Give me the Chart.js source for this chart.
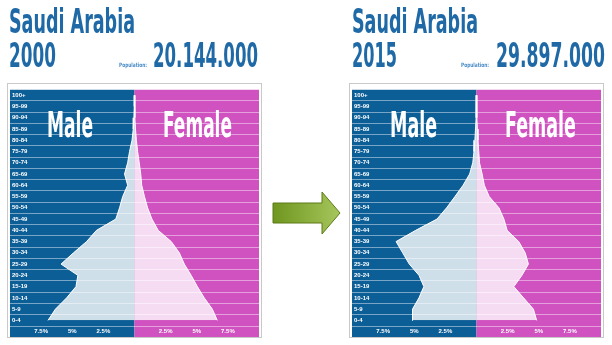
<!DOCTYPE html>
<html>
<head>
<meta charset="utf-8">
<script src="https://cdn.jsdelivr.net/npm/chart.js@4/dist/chart.umd.min.js"></script>
<style>
  body { margin: 0; background: #fff; }
  #wrap { position: relative; width: 612px; height: 345px; overflow: hidden; }
  .frame { position: absolute; top: 83px; border: 1px solid #c9c9c9; width: 253px; height: 253px; }
  .frame canvas { display: block; }
  #deco { position: absolute; left: 0; top: 0; pointer-events: none; }
</style>
</head>
<body>
<div id="wrap">
  <div class="frame" style="left:7px"><canvas id="chart2000" width="253" height="253"></canvas></div>
  <div class="frame" style="left:349px"><canvas id="chart2015" width="253" height="253"></canvas></div>

  <svg id="deco" width="612" height="345">
    <defs>
      <linearGradient id="arrowFill" x1="0" y1="0" x2="1" y2="0">
        <stop offset="0" stop-color="#6f961f"/>
        <stop offset="1" stop-color="#a6c65c"/>
      </linearGradient>
    </defs>
    <polygon points="273,203 322,203 322,192 340,213 322,234 322,223 273,223"
             fill="url(#arrowFill)" stroke="#5c7b16" stroke-width="1"/>

    <g font-family="'Liberation Sans Narrow','DejaVu Sans Condensed','Liberation Sans',sans-serif" font-weight="bold" fill="#1f6aa6">
      <text x="9" y="33.3" font-size="34" textLength="126" lengthAdjust="spacingAndGlyphs">Saudi Arabia</text>
      <text x="9" y="66.7" font-size="34" textLength="47" lengthAdjust="spacingAndGlyphs">2000</text>
      <text x="153" y="66.7" font-size="34" textLength="105" lengthAdjust="spacingAndGlyphs">20.144.000</text>
      <text x="352" y="33.3" font-size="34" textLength="126" lengthAdjust="spacingAndGlyphs">Saudi Arabia</text>
      <text x="352" y="66.7" font-size="34" textLength="45" lengthAdjust="spacingAndGlyphs">2015</text>
      <text x="496" y="66.7" font-size="34" textLength="109" lengthAdjust="spacingAndGlyphs">29.897.000</text>
      <text x="119" y="67" font-size="6" fill="#4a8cc6" textLength="28" lengthAdjust="spacingAndGlyphs">Population:</text>
      <text x="461" y="67" font-size="6" fill="#4a8cc6" textLength="28" lengthAdjust="spacingAndGlyphs">Population:</text>
    </g>

    <g font-family="'Liberation Sans Narrow','DejaVu Sans Condensed','Liberation Sans',sans-serif" font-weight="bold" fill="#fff">
      <text x="47" y="136.7" font-size="35" textLength="46" lengthAdjust="spacingAndGlyphs">Male</text>
      <text x="163" y="136.7" font-size="35" textLength="69" lengthAdjust="spacingAndGlyphs">Female</text>
      <text x="390" y="136.7" font-size="35" textLength="47" lengthAdjust="spacingAndGlyphs">Male</text>
      <text x="505" y="136.7" font-size="35" textLength="71" lengthAdjust="spacingAndGlyphs">Female</text>
    </g>
  </svg>
</div>

<script>
const ageGroups = ["100+", "95-99", "90-94", "85-89", "80-84", "75-79", "70-74", "65-69", "60-64", "55-59",
  "50-54", "45-49", "40-44", "35-39", "30-34", "25-29", "20-24", "15-19", "10-14", "5-9", "0-4"];

// % of total population, top (100+) to bottom (0-4)
const male2000 = [0.01, 0.02, 0.05, 0.1, 0.2, 0.4, 0.55, 0.8, 0.55, 0.95,
  1.2, 1.5, 3.05, 3.85, 4.9, 5.9, 4.55, 4.7, 5.45, 6.35, 6.95];
const female2000 = [0.01, 0.02, 0.04, 0.08, 0.15, 0.25, 0.38, 0.5, 0.58, 0.8,
  1.05, 1.4, 1.9, 2.95, 3.6, 4.0, 4.55, 5.05, 5.6, 6.25, 6.65];

const male2015 = [0.01, 0.02, 0.04, 0.08, 0.13, 0.2, 0.3, 0.55, 1.08, 1.73,
  2.4, 3.17, 4.88, 6.46, 5.93, 5.4, 4.62, 4.23, 4.62, 5.14, 5.14];
const female2015 = [0.01, 0.02, 0.04, 0.07, 0.12, 0.18, 0.24, 0.45, 0.63, 1.02,
  1.8, 2.2, 2.46, 3.39, 3.91, 4.17, 3.65, 3.0, 3.78, 4.57, 4.83];

const BLUE = "#0c5e97";
const PINK = "#d051c0";
const tickFont = { family: "'Liberation Sans', Arial, sans-serif", size: 6, weight: "bold" };

/* blue / magenta halves behind the plot and the axis strip */
const halves = {
  id: "halves",
  beforeDraw(chart) {
    const { ctx, chartArea: a, scales: { x } } = chart;
    const mid = x.getPixelForValue(0);
    ctx.save();
    ctx.fillStyle = BLUE;
    ctx.fillRect(a.left, a.top, mid - a.left, chart.height - a.top);
    ctx.fillStyle = PINK;
    ctx.fillRect(mid, a.top, a.right - mid, chart.height - a.top);
    ctx.restore();
  }
};

function side(label, values) {
  return {
    label: label,
    data: values,
    fill: "origin",
    backgroundColor: "rgba(255,255,255,0.8)",
    borderColor: "#fff",
    borderWidth: 1,
    pointRadius: 0,
    tension: 0
  };
}

function makePyramid(id, male, female) {
  return new Chart(document.getElementById(id), {
    type: "line",
    data: {
      labels: ageGroups,
      datasets: [side("Male", male.map(v => -v)), side("Female", female)]
    },
    options: {
      indexAxis: "y",
      responsive: false,
      animation: false,
      layout: { padding: 0 },
      plugins: { legend: { display: false }, tooltip: { enabled: false } },
      scales: {
        x: {
          type: "linear",
          min: -10,
          max: 10,
          grid: { display: false, drawTicks: false },
          border: { display: false },
          ticks: {
            stepSize: 2.5,
            autoSkip: false,
            maxRotation: 0,
            padding: 2,
            color: "#fff",
            font: tickFont,
            callback: v => (v === 0 || Math.abs(v) === 10) ? "" : Math.abs(v) + "%"
          },
          afterFit: s => { s.height = 11; }
        },
        y: {
          type: "category",
          offset: true,
          grid: { offset: true, color: "rgba(255,255,255,0.45)", lineWidth: 1, drawTicks: false },
          border: { display: false },
          ticks: { mirror: true, padding: 2, color: "#fff", font: tickFont },
          afterFit: s => { s.width = 0; }
        }
      }
    },
    plugins: [halves]
  });
}

makePyramid("chart2000", male2000, female2000);
makePyramid("chart2015", male2015, female2015);
</script>
</body>
</html>
